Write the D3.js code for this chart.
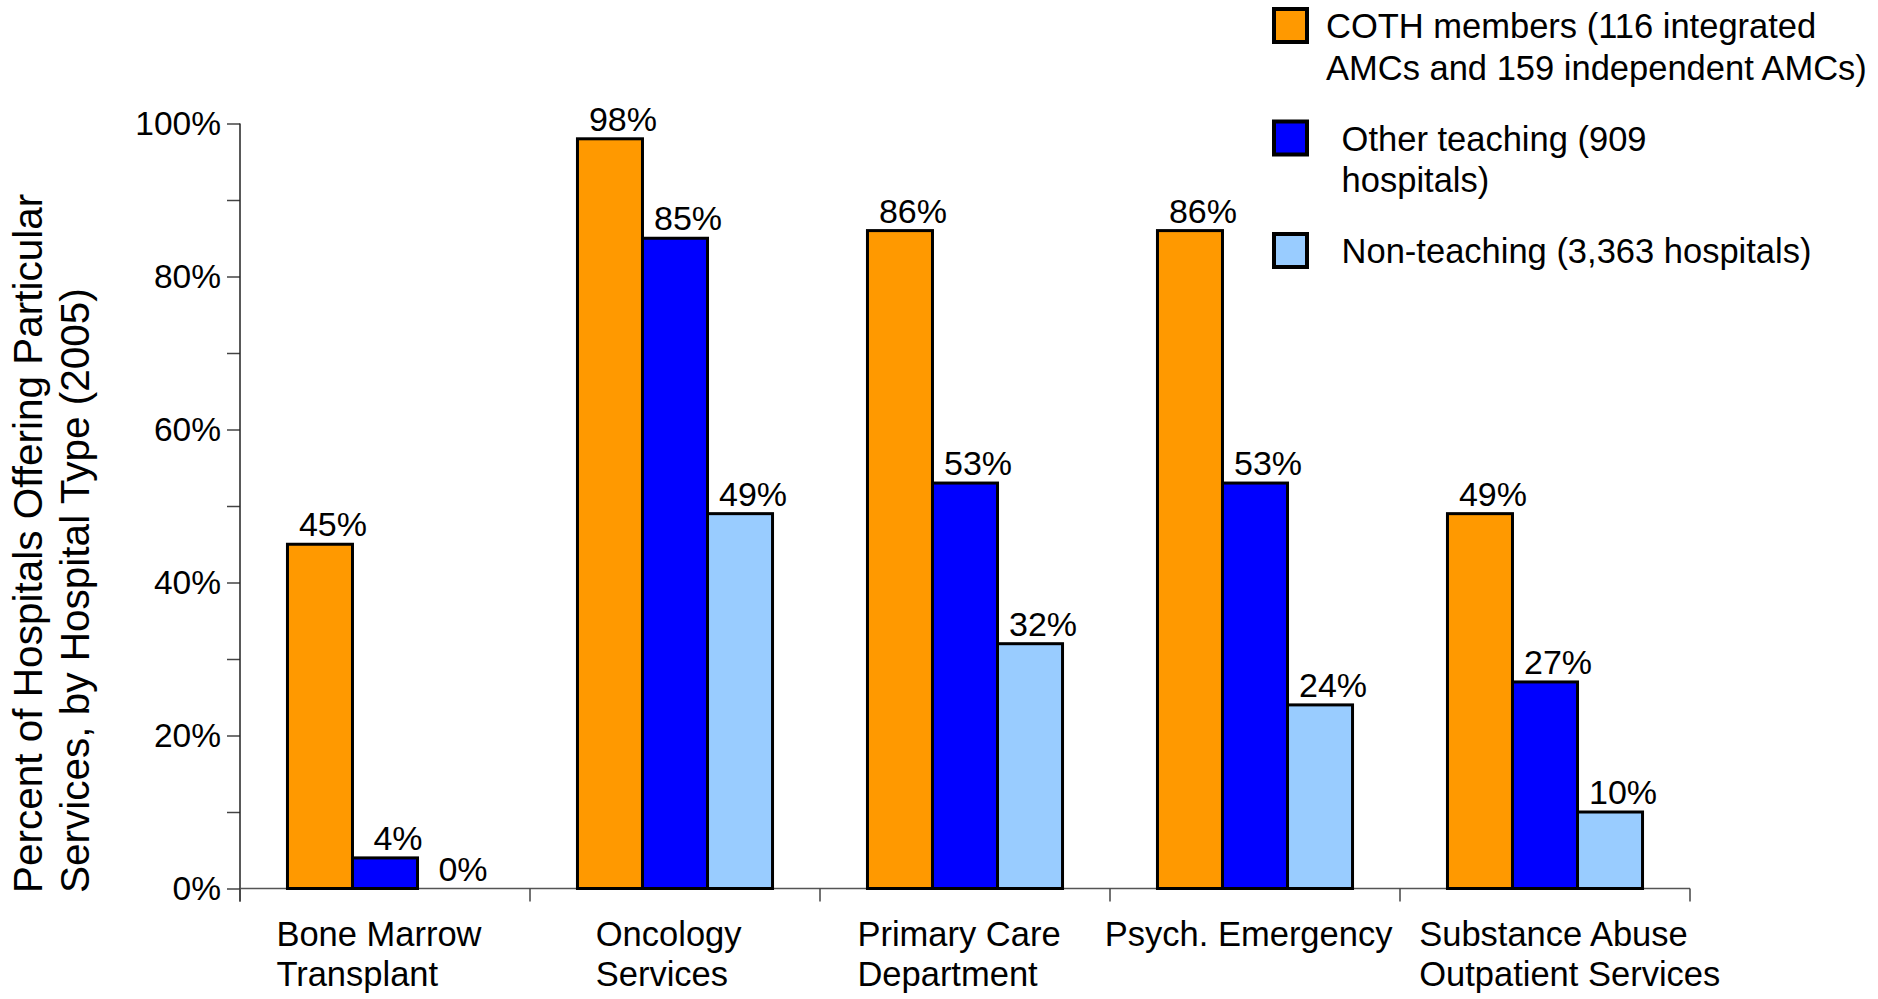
<!DOCTYPE html>
<html>
<head>
<meta charset="utf-8">
<script src="https://cdn.jsdelivr.net/npm/d3@7/dist/d3.min.js"></script>
<style>
  html, body { margin: 0; padding: 0; background: #fff; }
  svg { display: block; }
  text { font-family: "Liberation Sans", Arial, sans-serif; fill: #000; white-space: pre; }
</style>
</head>
<body>
<svg id="chart" width="1878" height="999"></svg>
<script>
// ---- data ----
const categories = ["Bone Marrow\nTransplant", "Oncology\nServices", "Primary Care\nDepartment", "Psych. Emergency", "Substance Abuse\nOutpatient Services"];
const seriesNames = ["COTH members (116 integrated\nAMCs and 159 independent AMCs)", "\u00A0Other teaching (909\n\u00A0hospitals)", "\u00A0Non-teaching (3,363 hospitals)"];
const cothValues = [45, 98, 86, 86, 49];
const otherTeachingValues = [4, 85, 53, 53, 27];
const nonTeachingValues = [0, 49, 32, 24, 10];
const seriesColors = ["#FF9900", "#0000FF", "#99CCFF"];
const yTickValues = [0, 10, 20, 30, 40, 50, 60, 70, 80, 90, 100];
const yLabelValues = [0, 20, 40, 60, 80, 100];
const yTitleLines = ["Percent of Hospitals Offering Particular", "Services, by Hospital Type (2005)"];

const seriesValues = [cothValues, otherTeachingValues, nonTeachingValues];

// ---- layout ----
const svg = d3.select("#chart");
const plotLeft = 240, plotRight = 1690, plotTop = 123.5, plotBottom = 888.5;

const x0 = d3.scaleBand().domain(d3.range(categories.length)).range([plotLeft, plotRight]).padding(0);
const x1 = d3.scaleBand().domain(d3.range(seriesNames.length)).range([0, x0.bandwidth()]).paddingInner(0).paddingOuter(0.73);
const y = d3.scaleLinear().domain([0, 100]).range([plotBottom, plotTop]);

// y axis
const yAxis = d3.axisLeft(y).tickValues(yTickValues).tickSize(13).tickFormat("");
const gy = svg.append("g").attr("transform", `translate(${plotLeft},0)`).call(yAxis);
gy.select(".domain").remove();
gy.selectAll(".tick line").attr("stroke", "#444").attr("stroke-width", 1.5);
svg.append("line").attr("x1", plotLeft).attr("x2", plotLeft).attr("y1", plotTop).attr("y2", plotBottom + 13)
  .attr("stroke", "#222").attr("stroke-width", 1.5);

svg.append("g").selectAll("text").data(yLabelValues).join("text")
  .attr("x", plotLeft - 19).attr("y", d => y(d) + 11)
  .attr("text-anchor", "end").attr("font-size", 33.5)
  .text(d => d + "%");

// x axis
svg.append("line").attr("x1", plotLeft).attr("x2", plotRight).attr("y1", plotBottom).attr("y2", plotBottom)
  .attr("stroke", "#555").attr("stroke-width", 1.5);
const boundaries = d3.range(categories.length + 1).map(i => i < categories.length ? x0(i) : x0(categories.length - 1) + x0.bandwidth());
svg.append("g").selectAll("line").data(boundaries).join("line")
  .attr("x1", d => d).attr("x2", d => d).attr("y1", plotBottom).attr("y2", plotBottom + 13)
  .attr("stroke", "#444").attr("stroke-width", 1.5);

// bars
const groups = svg.append("g").selectAll("g").data(categories).join("g")
  .attr("transform", (d, i) => `translate(${x0(i)},0)`);

groups.each(function(cat, ci) {
  const g = d3.select(this);
  seriesValues.forEach((vals, si) => {
    const v = vals[ci];
    if (v > 0) {
      g.append("rect")
        .attr("x", x1(si)).attr("y", y(v))
        .attr("width", x1.bandwidth()).attr("height", y(0) - y(v))
        .attr("fill", seriesColors[si]).attr("stroke", "#000").attr("stroke-width", 3);
    }
    g.append("text")
      .attr("x", x1(si) + x1.bandwidth() / 2 + 13)
      .attr("y", y(v) - 8)
      .attr("text-anchor", "middle").attr("font-size", 34)
      .text(v + "%");
  });
});

// category labels (left-aligned lines, block centred, pushed right if colliding)
const catLabels = svg.append("g");
let prevRight = -Infinity;
categories.forEach((cat, ci) => {
  const t = catLabels.append("text").attr("font-size", 34.5);
  cat.split("\n").forEach((ln, li) => {
    t.append("tspan").attr("x", 0).attr("y", 946 + li * 40).text(ln);
  });
  const w = t.node().getBBox().width;
  let lx = x0(ci) + x0.bandwidth() / 2 - w / 2 - 6;
  if (lx < prevRight + 26) lx = prevRight + 26;
  t.attr("transform", `translate(${lx},0)`);
  prevRight = lx + w;
});

// y title
yTitleLines.forEach((ln, i) => {
  svg.append("text")
    .attr("transform", `translate(${42 + i * 46.5},893) rotate(-90)`)
    .attr("text-anchor", "start").attr("font-size", 40.5)
    .text(ln);
});

// legend
const legend = svg.append("g");
seriesNames.forEach((name, i) => {
  const ty = 7 + i * 112.5;
  legend.append("rect").attr("x", 1274).attr("y", ty + 2).attr("width", 33).attr("height", 33)
    .attr("fill", seriesColors[i]).attr("stroke", "#000").attr("stroke-width", 4);
  const t = legend.append("text").attr("font-size", 34.5);
  name.split("\n").forEach((ln, li) => {
    t.append("tspan").attr("x", ln.startsWith("\u00A0") ? 1332 : 1326).attr("y", ty + 31 + li * 41.5).text(ln);
  });
});
</script>
</body>
</html>
